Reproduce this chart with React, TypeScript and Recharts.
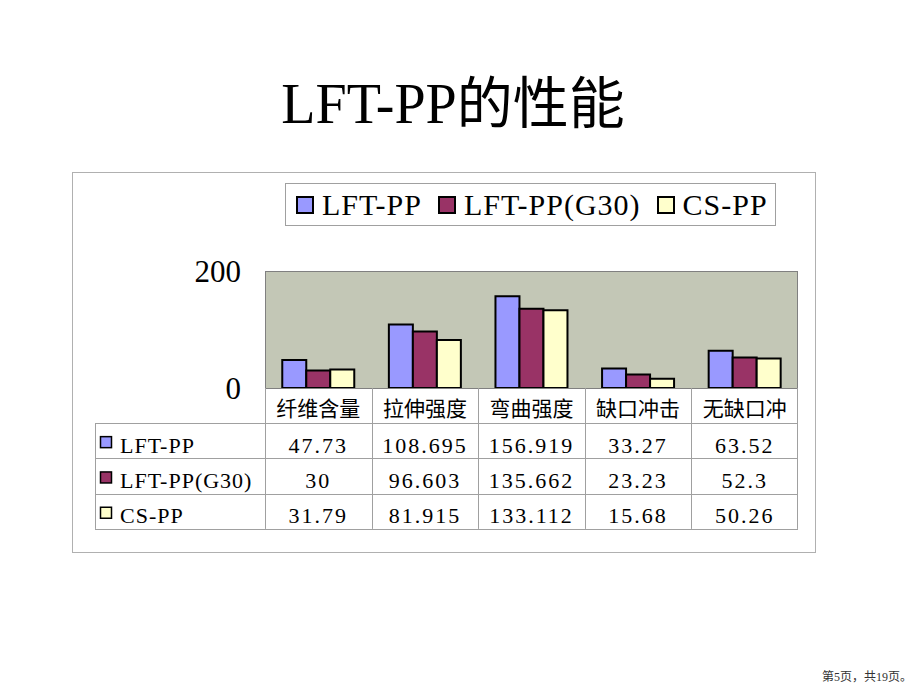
import React from 'react';
import { BarChart, Bar, XAxis, YAxis, CartesianGrid, Legend } from 'recharts';

const categories = ['纤维含量', '拉伸强度', '弯曲强度', '缺口冲击', '无缺口冲'];
const lftPP = [47.73, 108.695, 156.919, 33.27, 63.52];
const lftPPG30 = [30, 96.603, 135.662, 23.23, 52.3];
const csPP = [31.79, 81.915, 133.112, 15.68, 50.26];
const seriesNames = ['LFT-PP', 'LFT-PP(G30)', 'CS-PP'];
const seriesColors = ['#9999ff', '#993366', '#ffffcc'];
const seriesValues = [lftPP, lftPPG30, csPP];
const yTicks = [0, 200];
const titleText = 'LFT-PP的性能';
const pageNote = '第5页，共19页。';

const data = categories.map((c, i) => ({ name: c, s0: lftPP[i], s1: lftPPG30[i], s2: csPP[i] }));

const W = 920;
const H = 690;
const PLOT = { left: 265, right: 798, top: 271, bottom: 388 };
const Y_AXIS_W = 60;
const X_AXIS_H = 35;
const PLOT_BG = '#c3c7b6';
const SERIF = "'Liberation Serif', 'Times New Roman', 'Noto Sans CJK SC', serif";
const CJK = "'Noto Sans CJK SC', 'Liberation Serif', sans-serif";

const TABLE_LEFT = 95;
const HEADER_BOTTOM = 423;
const ROW_H = 35.3;
const colW = (PLOT.right - PLOT.left) / categories.length;

const XTick = (props: any) => {
  const { x, y, payload } = props;
  return (
    <text x={x} y={y} textAnchor="middle" dominantBaseline="central" fontFamily={CJK} fontSize={21} fill="#000">
      {payload.value}
    </text>
  );
};

const LegendContent = () => {
  return (
    <div
      style={{
        boxSizing: 'border-box',
        width: 491,
        height: 43,
        border: '1px solid #a0a0a0',
        display: 'flex',
        alignItems: 'center',
        paddingLeft: 10,
        background: '#fff',
      }}
    >
      {seriesNames.map((n, i) => (
        <div key={i} style={{ display: 'flex', alignItems: 'center', marginRight: 16 }}>
          <div style={{ boxSizing: 'border-box', width: 18, height: 18, background: seriesColors[i], border: '2px solid #000', marginRight: 8 }} />
          <span style={{ fontFamily: SERIF, fontSize: 30, lineHeight: '30px', letterSpacing: 1, color: '#000', whiteSpace: 'nowrap' }}>{n}</span>
        </div>
      ))}
    </div>
  );
};

export default function App() {
  const rowTops = seriesNames.map((_, r) => HEADER_BOTTOM + r * ROW_H);
  const tableBottom = HEADER_BOTTOM + seriesNames.length * ROW_H;
  return (
    <div style={{ position: 'absolute', left: 0, top: 0, width: W, height: H, background: '#fff', overflow: 'hidden' }}>
      <div
        style={{
          position: 'absolute',
          left: 0,
          top: 67,
          width: W - 14,
          textAlign: 'center',
          fontFamily: SERIF,
          fontSize: 56,
          lineHeight: '74px',
          color: '#000',
        }}
      >
        {titleText}
      </div>

      <BarChart
        width={W}
        height={H}
        data={data}
        margin={{ top: PLOT.top, left: PLOT.left - Y_AXIS_W, right: W - PLOT.right, bottom: H - PLOT.bottom - X_AXIS_H }}
        barCategoryGap="16.2%"
        barGap={0}
        style={{ position: 'absolute', left: 0, top: 0 }}
      >
        <CartesianGrid fill={PLOT_BG} fillOpacity={1} horizontal={false} vertical={false} stroke="none" />
        <YAxis
          domain={[0, 200]}
          ticks={yTicks}
          interval={0}
          width={Y_AXIS_W}
          axisLine={false}
          tickLine={false}
          tickSize={0}
          tickMargin={24}
          tick={{ fontFamily: SERIF, fontSize: 31, fill: '#000' }}
        />
        <XAxis
          dataKey="name"
          height={X_AXIS_H}
          interval={0}
          axisLine={false}
          tickLine={false}
          tickSize={0}
          tickMargin={19}
          tick={<XTick />}
        />
        <Legend
          layout="horizontal"
          verticalAlign="middle"
          align="center"
          wrapperStyle={{ left: 285, top: 183, width: 491, height: 43 }}
          content={<LegendContent />}
        />
        {seriesNames.map((n, i) => (
          <Bar key={n} dataKey={`s${i}`} name={n} fill={seriesColors[i]} stroke="#000" strokeWidth={2} isAnimationActive={false} />
        ))}
      </BarChart>

      <svg width={W} height={H} style={{ position: 'absolute', left: 0, top: 0, pointerEvents: 'none' }}>
        <rect x={72.5} y={172.5} width={743} height={380} fill="none" stroke="#b0b0b0" strokeWidth={1} />
        <rect x={PLOT.left + 0.5} y={PLOT.top + 0.5} width={PLOT.right - PLOT.left - 1} height={PLOT.bottom - PLOT.top} fill="none" stroke="#808080" strokeWidth={1} />
        {categories.map((_, k) => (
          <line key={'v' + k} x1={Math.round(PLOT.left + k * colW) + 0.5} x2={Math.round(PLOT.left + k * colW) + 0.5} y1={PLOT.bottom} y2={tableBottom} stroke="#a0a0a0" />
        ))}
        <line x1={PLOT.right - 0.5} x2={PLOT.right - 0.5} y1={PLOT.bottom} y2={tableBottom} stroke="#a0a0a0" />
        <line x1={TABLE_LEFT + 0.5} x2={TABLE_LEFT + 0.5} y1={HEADER_BOTTOM} y2={tableBottom} stroke="#a0a0a0" />
        {[HEADER_BOTTOM, ...rowTops.slice(1), tableBottom].map((yy, k) => (
          <line key={'h' + k} x1={TABLE_LEFT} x2={PLOT.right} y1={Math.round(yy) + 0.5} y2={Math.round(yy) + 0.5} stroke="#a0a0a0" />
        ))}
        {seriesNames.map((n, r) => {
          const cy = rowTops[r] + ROW_H / 2 + 12;
          return (
            <g key={'row' + r}>
              <rect x={100.5} y={cy - 16} width={11} height={11} fill={seriesColors[r]} stroke="#000" strokeWidth={1.5} />
              <text x={120} y={cy} fontFamily={SERIF} fontSize={22} letterSpacing={1} fill="#000">
                {n}
              </text>
              {seriesValues[r].map((v, c) => (
                <text
                  key={c}
                  x={PLOT.left + (c + 0.5) * colW}
                  y={cy}
                  textAnchor="middle"
                  fontFamily={SERIF}
                  fontSize={22}
                  letterSpacing={2}
                  fill="#000"
                >
                  {String(v)}
                </text>
              ))}
            </g>
          );
        })}
      </svg>

      <div style={{ position: 'absolute', right: 8, top: 667, fontFamily: SERIF, fontSize: 12, color: '#333' }}>{pageNote}</div>
    </div>
  );
}
